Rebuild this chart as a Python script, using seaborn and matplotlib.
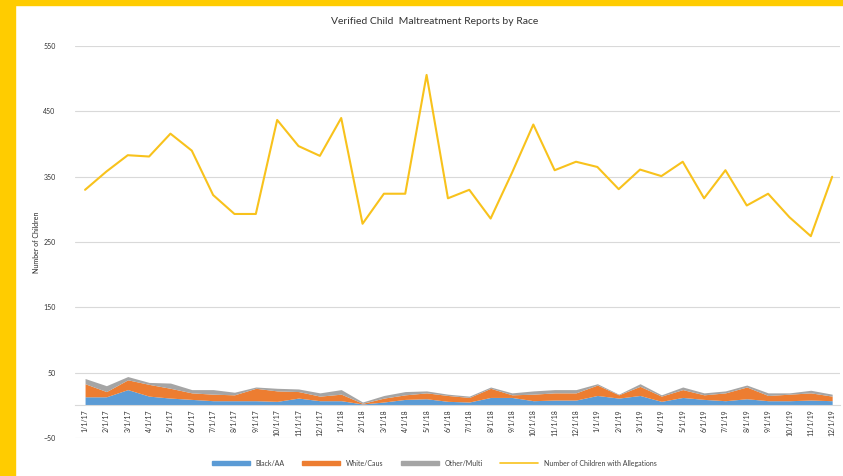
import pandas as pd
import matplotlib.pyplot as plt
import seaborn as sns
from matplotlib.patches import Rectangle, Patch
from matplotlib.lines import Line2D

# monthly report counts, Jan 2017 - Dec 2019
months = [f"{m}/1/{y}" for y in (17, 18, 19) for m in range(1, 13)]

black_aa = [13, 13, 24, 14, 11, 9, 7, 7, 7, 6, 11, 7,
            7, 2, 5, 9, 10, 6, 5, 12, 12, 7, 8, 8,
            15, 11, 15, 6, 12, 9, 7, 10, 7, 7, 8, 7]
white_caus = [20, 8, 15, 18, 15, 10, 10, 9, 19, 16, 10, 7,
              10, 1, 6, 7, 9, 9, 7, 14, 4, 10, 11, 11,
              16, 5, 14, 8, 12, 7, 12, 18, 8, 10, 11, 7]
other_multi = [8, 9, 5, 3, 8, 5, 7, 4, 2, 4, 4, 5,
               7, 2, 4, 5, 3, 2, 2, 2, 3, 5, 5, 5,
               2, 1, 4, 2, 4, 3, 3, 3, 4, 2, 4, 3]
allegations = [330, 358, 383, 381, 416, 390, 322, 293, 293, 437, 397, 382,
               440, 278, 324, 324, 506, 317, 330, 286, 356, 430, 360, 373,
               365, 331, 361, 351, 373, 317, 360, 306, 324, 288, 259, 350]

df = pd.DataFrame({"Month": months, "idx": range(len(months)),
                   "Black/AA": black_aa, "White/Caus": white_caus,
                   "Other/Multi": other_multi,
                   "Number of Children with Allegations": allegations})

sns.set_theme(style="white")
plt.rcParams['font.family'] = ['Lato', 'DejaVu Sans']

blue, orange, gray, yellow = "#5B9BD5", "#ED7D31", "#A5A5A5", "#F8C21C"

fig = plt.figure(figsize=(8.43, 4.76), dpi=100)
ax = fig.add_axes([0.089, 0.080, 0.907, 0.823])

ax.stackplot(df["idx"], df["Black/AA"], df["White/Caus"], df["Other/Multi"],
             colors=[blue, orange, gray], linewidth=0)
sns.lineplot(data=df, x="idx", y="Number of Children with Allegations",
             color=yellow, linewidth=1.5, ax=ax)

# category axis sits at y = 0 like in Excel (do this before styling ticks)
for s in ["top", "right", "left"]:
    ax.spines[s].set_visible(False)
ax.spines["bottom"].set_position(("data", 0))
ax.spines["bottom"].set_color("#D9D9D9")
ax.spines["bottom"].set_linewidth(0.8)

ax.set_ylim(-50, 550)
ax.set_yticks(range(-50, 551, 100))
ax.set_xlim(-0.47, 35.35)
ax.set_xticks(df["idx"])
ax.set_xticklabels(months, rotation=90, fontsize=5, color="#333333")
ax.tick_params(axis="y", labelsize=5, labelcolor="#333333", length=0, pad=14)
ax.tick_params(axis="x", length=0, pad=3)
ax.yaxis.grid(True, color="#D9D9D9", linewidth=0.8)
ax.set_xlabel("")
ax.set_ylabel("Number of Children", fontsize=5, color="#262626")
ax.yaxis.set_label_coords(-0.046, 0.5)

fig.text(0.516, 0.955, "Verified Child  Maltreatment Reports by Race",
         ha="center", va="center", fontsize=7.5, color="#333333")

handles = [Patch(color=blue), Patch(color=orange), Patch(color=gray),
           Line2D([0], [0], color=yellow, linewidth=1.2)]
labels = ["Black/AA", "White/Caus", "Other/Multi",
          "Number of Children with Allegations"]
fig.legend(handles, labels, loc="center", bbox_to_anchor=(0.515, 0.027),
           ncol=4, frameon=False, fontsize=5, handlelength=5.5,
           handleheight=0.6, columnspacing=2.5, labelcolor="#404040")

# yellow frame on the left and top edges
fig.patches.append(Rectangle((0, 0), 15 / 843, 1, transform=fig.transFigure,
                             color="#FFCC00", zorder=10))
fig.patches.append(Rectangle((0, 1 - 5 / 476), 1, 5 / 476,
                             transform=fig.transFigure, color="#FFCC00",
                             zorder=10))

plt.savefig("out.png", dpi=100)
